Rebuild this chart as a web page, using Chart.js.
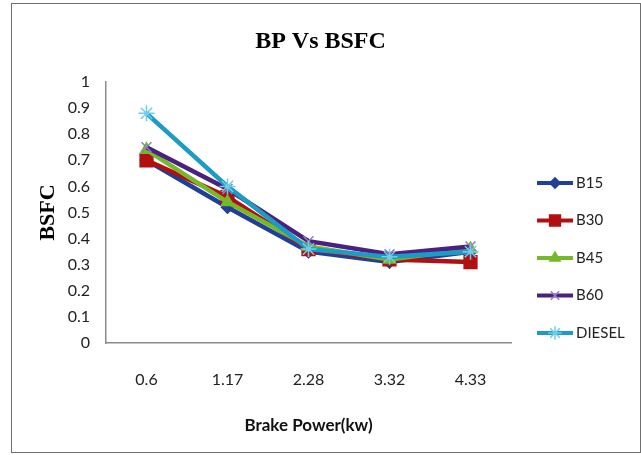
<!DOCTYPE html>
<html>
<head>
<meta charset="utf-8">
<script src="https://cdn.jsdelivr.net/npm/chart.js@4/dist/chart.umd.min.js"></script>
<style>
  body { margin: 0; background: #fff; }
  #wrap { position: relative; width: 641px; height: 455px; }
  #frame { position: absolute; left: 11px; top: 3px; width: 628px; height: 448px; border: 1px solid #6f6f6f; pointer-events: none; }
</style>
</head>
<body>
<div id="wrap">
  <canvas id="bsfcChart" width="641" height="455"></canvas>
  <div id="frame"></div>
</div>
<script>
// brake power categories (x axis tick labels)
const powerLabels = ['0.6', '1.17', '2.28', '3.32', '4.33'];

// BSFC values
const b15 = [0.70, 0.52, 0.35, 0.31, 0.35];
const b30 = [0.70, 0.56, 0.36, 0.32, 0.31];
const b45 = [0.74, 0.54, 0.37, 0.32, 0.36];
const b60 = [0.75, 0.59, 0.39, 0.34, 0.37];
const diesel = [0.88, 0.60, 0.36, 0.33, 0.35];

const seriesNames = ['B15', 'B30', 'B45', 'B60', 'DIESEL'];

// legend drawn at the right like the excel one: line + marker + name
const sideLegend = {
  id: 'sideLegend',
  afterDraw(chart) {
    const ctx = chart.ctx;
    chart.data.datasets.forEach((ds, i) => {
      const y = 183 + i * 37.5;
      ctx.save();
      ctx.strokeStyle = ds.borderColor;
      ctx.lineWidth = 4;
      ctx.beginPath();
      ctx.moveTo(537, y);
      ctx.lineTo(573, y);
      ctx.stroke();
      ctx.fillStyle = ds.pointBackgroundColor;
      ctx.strokeStyle = ds.pointBorderColor;
      ctx.lineWidth = ds.pointBorderWidth;
      Chart.helpers.drawPoint(ctx, {
        pointStyle: ds.pointStyle,
        radius: ds.pointRadius * 0.85,
        rotation: 0,
        borderWidth: ds.pointBorderWidth
      }, 555, y);
      ctx.fillStyle = '#222';
      ctx.font = '15px Lato';
      ctx.textBaseline = 'middle';
      ctx.textAlign = 'left';
      ctx.fillText(ds.label, 576, y);
      ctx.restore();
    });
  }
};

function series(label, data, color, style, radius, markColor, order) {
  return {
    label,
    data,
    borderColor: color,
    borderWidth: 4.5,
    pointStyle: style,
    pointRadius: radius,
    pointBackgroundColor: markColor,
    pointBorderColor: markColor,
    pointBorderWidth: 1.5,
    tension: 0,
    fill: false,
    order
  };
}

new Chart(document.getElementById('bsfcChart'), {
  type: 'line',
  data: {
    labels: powerLabels,
    datasets: [
      series(seriesNames[0], b15, '#1f3f99', 'rectRot', 6, '#1f3f99', 4),
      series(seriesNames[1], b30, '#b01010', 'rect', 9, '#b01010', 3),
      series(seriesNames[2], b45, '#76b82a', 'triangle', 7, '#76b82a', 2),
      series(seriesNames[3], b60, '#4b2180', 'crossRot', 7, '#8d7fc0', 1),
      series(seriesNames[4], diesel, '#1c9bc4', 'star', 8, '#6fcde8', 0)
    ]
  },
  options: {
    responsive: false,
    animation: false,
    layout: {
      padding: 0
    },
    plugins: {
      legend: { display: false },
      tooltip: { enabled: false },
      title: {
        display: true,
        text: 'BP Vs BSFC',
        color: '#000',
        font: { family: 'Liberation Serif', size: 24, weight: 'bold' },
        padding: { top: 27, bottom: 26.2 }
      }
    },
    scales: {
      x: {
        offset: true,
        grid: { display: false, drawTicks: false },
        border: { display: true, color: '#8c8c8c', width: 1.5 },
        ticks: {
          color: '#222',
          padding: 27,
          font: { family: 'Lato', size: 16 }
        },
        title: {
          display: true,
          text: 'Brake Power(kw)',
          color: '#111',
          font: { family: 'Lato', size: 17, weight: 'bold' },
          padding: { top: 0, bottom: 19 }
        },
        afterFit(scale) {
          scale.height = 112;
        }
      },
      y: {
        min: 0,
        max: 1,
        grid: { display: false, drawTicks: false },
        border: { display: true, color: '#8c8c8c', width: 1.5 },
        ticks: {
          stepSize: 0.1,
          color: '#222',
          padding: 16,
          font: { family: 'Lato', size: 16 },
          callback: value => String(Math.round(value * 10) / 10)
        },
        title: {
          display: true,
          text: 'BSFC',
          color: '#000',
          font: { family: 'Liberation Serif', size: 22, weight: 'bold' },
          padding: { top: 35, bottom: 0 }
        },
        afterFit(scale) {
          scale.width = 106;
        }
      },
      // empty right-hand axis that only reserves room for the legend
      room: {
        position: 'right',
        min: 0,
        max: 1,
        grid: { display: false, drawTicks: false },
        border: { display: false },
        ticks: { display: false },
        afterFit(scale) {
          scale.width = 130;
        }
      }
    }
  },
  plugins: [sideLegend]
});
</script>
</body>
</html>
